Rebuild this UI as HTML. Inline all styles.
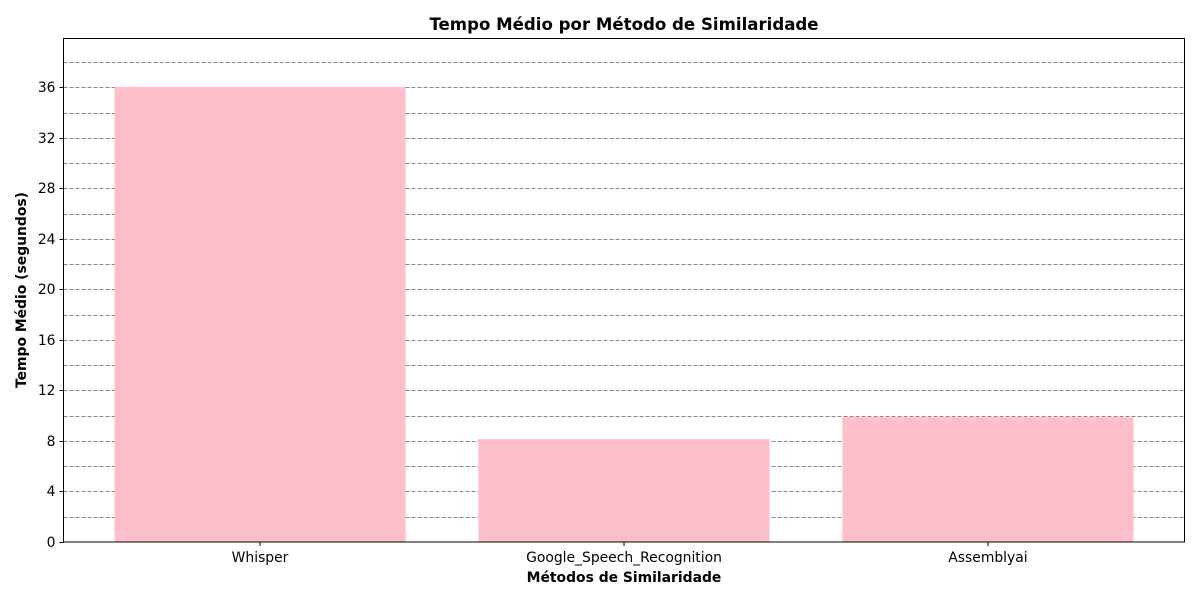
<!DOCTYPE html>
<html><head><meta charset="utf-8"><style>body{margin:0;background:#fff}svg{display:block}text{font-family:"DejaVu Sans","Liberation Sans",sans-serif}</style></head>
<body>
<svg id="chart" width="1200" height="600">
<text x="624" y="30" text-anchor="middle" font-size="16.6" font-weight="bold">Tempo Médio por Método de Similaridade</text>
<g id="grid"></g><g id="bars"></g><g id="yticks"></g><g id="xticks"></g>
<rect x="63.5" y="38.5" width="1121" height="503.5" fill="none" stroke="#000" stroke-width="1"/>
<text x="624" y="582" text-anchor="middle" font-size="13.9" font-weight="bold">Métodos de Similaridade</text>
<text transform="translate(26,290) rotate(-90)" text-anchor="middle" font-size="13.9" font-weight="bold">Tempo Médio (segundos)</text>
</svg>
<script>
const categories = ["Whisper","Google_Speech_Recognition","Assemblyai"];
const values = [36.05, 8.15, 9.89];
const yTicks = [0,4,8,12,16,20,24,28,32,36];
const gridVals = [2,4,6,8,10,12,14,16,18,20,22,24,26,28,30,32,34,36,38];
const NS="http://www.w3.org/2000/svg";
const L=63.5,R=1184.5,T=38.5,B=542;
const yMax=39.88;
const y=v=>B-(v/yMax)*(B-T);
const xMin=-0.54,xMax=categories.length-1+0.54;
const x=i=>L+(i-xMin)/(xMax-xMin)*(R-L);
const bw=0.8*(x(1)-x(0));
function mk(t,a,p){const e=document.createElementNS(NS,t);for(const k in a)e.setAttribute(k,a[k]);p.appendChild(e);return e;}
const g=document.getElementById('grid');
gridVals.forEach(v=>{const e=mk('line',{x1:L,x2:R,y1:Math.round(y(v))+0.5,y2:Math.round(y(v))+0.5,stroke:'#888','stroke-dasharray':'4,2','stroke-width':1},g);

});
const bg=document.getElementById('bars');
values.forEach((v,i)=>{const e=mk('rect',{x:x(i)-bw/2,y:y(v),width:bw,height:B-y(v),fill:'#ffc0cb'},bg);

});
const yt=document.getElementById('yticks');
yTicks.forEach(v=>{const yy=Math.round(y(v))+0.5;mk('line',{x1:L-4,x2:L,y1:yy,y2:yy,stroke:'#000'},yt);
const t=mk('text',{x:L-8,y:yy+4.5,'text-anchor':'end','font-size':13.9},yt);t.textContent=v;

});
const xt=document.getElementById('xticks');
categories.forEach((c,i)=>{mk('line',{x1:x(i),x2:x(i),y1:B,y2:B+4,stroke:'#000'},xt);
const t=mk('text',{x:x(i),y:B+20,'text-anchor':'middle','font-size':13.9},xt);t.textContent=c;

});
</script>
</body></html>
